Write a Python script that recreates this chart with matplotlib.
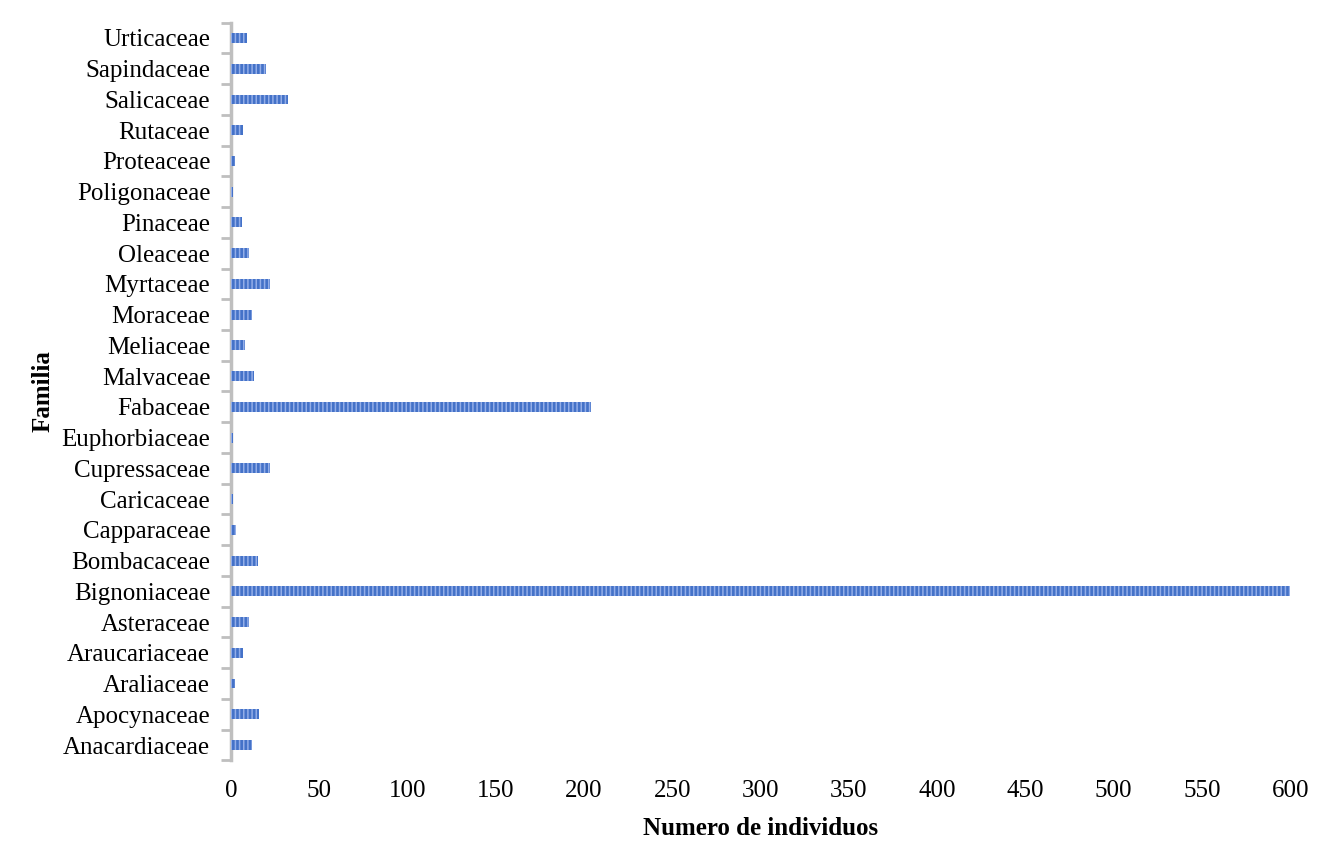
import numpy as np
import matplotlib
matplotlib.use('Agg')
import matplotlib.pyplot as plt

# families from bottom to top as drawn
familias = ['Anacardiaceae', 'Apocynaceae', 'Araliaceae', 'Araucariaceae', 'Asteraceae',
            'Bignoniaceae', 'Bombacaceae', 'Capparaceae', 'Caricaceae', 'Cupressaceae',
            'Euphorbiaceae', 'Fabaceae', 'Malvaceae', 'Meliaceae', 'Moraceae',
            'Myrtaceae', 'Oleaceae', 'Pinaceae', 'Poligonaceae', 'Proteaceae',
            'Rutaceae', 'Salicaceae', 'Sapindaceae', 'Urticaceae']
individuos = [12, 16, 2, 7, 10,
              600, 15, 3, 1, 22,
              1, 204, 13, 8, 12,
              22, 10, 6, 1, 2,
              7, 32, 20, 9]
x_ticks = list(range(0, 601, 50))

plt.rcParams['font.family'] = ['Liberation Serif', 'DejaVu Serif']
plt.rcParams['hatch.linewidth'] = 1.1
plt.rcParams['hatch.color'] = '#93AEE8'

fig = plt.figure(figsize=(13.31, 8.65), dpi=100)
ax = fig.add_axes([0.1736, 0.1209, 0.7957, 0.853])

y = np.arange(len(familias))
ax.barh(y, individuos, height=0.32, color='#4472C8', edgecolor='#93AEE8',
        linewidth=0, hatch='||||', zorder=3)

ax.set_ylim(-0.5, len(familias) - 0.5)
ax.set_xlim(0, 600)
ax.set_yticks(y)
ax.set_yticklabels(familias, fontsize=18)
ax.set_yticks(np.arange(-0.5, len(familias), 1), minor=True)
ax.tick_params(axis='y', which='major', length=0, pad=15)
ax.tick_params(axis='y', which='minor', length=7, width=2, color='#BFBFBF')
ax.set_xticks(x_ticks)
ax.set_xticklabels([str(t) for t in x_ticks], fontsize=18)
ax.tick_params(axis='x', length=0, pad=14)

for s in ['top', 'right', 'bottom']:
    ax.spines[s].set_visible(False)
ax.spines['left'].set_color('#BFBFBF')
ax.spines['left'].set_linewidth(2.5)

ax.set_xlabel('Numero de individuos', fontsize=18, fontweight='bold', labelpad=11)
ax.set_ylabel('Familia', fontsize=18, fontweight='bold', labelpad=5)

fig.savefig('out.png', dpi=100)
